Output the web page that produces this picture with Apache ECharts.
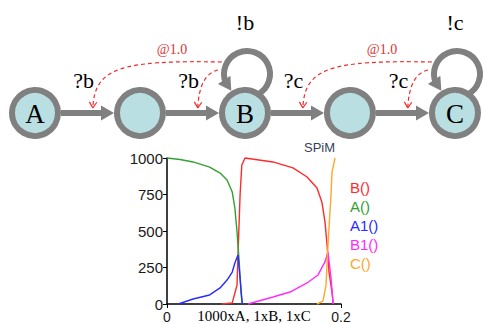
<!DOCTYPE html>
<html><head><meta charset="utf-8">
<script src="https://cdn.jsdelivr.net/npm/echarts@6/dist/echarts.min.js"></script>
<style>html,body{margin:0;padding:0;background:#fff}#c{width:485px;height:324px}</style>
</head><body><div id="c"></div>
<script>
// ---- diagram structure ----
const nodeLabels = ['A', '', 'B', '', 'C'];
const edgeLabels = ['?b', '?b', '?c', '?c'];          // edge i: node i -> node i+1
const loopNodes = [2, 4];
const loopLabels = ['!b', '!c'];
const rateLinks = [[2, 0], [2, 1], [4, 2], [4, 3]];    // loop node -> edge index
const rateLabel = '@1.0';

// ---- simulation series (time, population) ----
const seriesNames = ['B()', 'A()', 'A1()', 'B1()', 'C()'];
const bTime = [0.063, 0.075, 0.0805, 0.082, 0.084, 0.086, 0.0897, 0.1218, 0.1448, 0.161, 0.1724, 0.178, 0.1816, 0.184, 0.1862, 0.1897, 0.191];
const bVal  = [0, 8, 130, 404, 747, 952, 1000, 973, 932, 870, 795, 699, 562, 404, 219, 82, 0];
const aTime = [0, 0.015, 0.030, 0.049, 0.061, 0.069, 0.075, 0.078, 0.0805, 0.083, 0.085, 0.0865];
const aVal  = [1000, 990, 973, 938, 897, 849, 767, 658, 493, 288, 82, 0];
const a1Time = [0.013, 0.030, 0.049, 0.061, 0.069, 0.075, 0.078, 0.0816, 0.084, 0.0865];
const a1Val  = [0, 34, 62, 110, 164, 219, 281, 336, 178, 0];
const b1Time = [0.093, 0.1218, 0.1414, 0.161, 0.1736, 0.1816, 0.185, 0.1885, 0.191];
const b1Val  = [0, 48, 82, 144, 199, 288, 356, 178, 0];
const cTime = [0.1724, 0.1793, 0.1828, 0.184, 0.1862, 0.1885, 0.1897, 0.1931];
const cVal  = [0, 20, 130, 288, 520, 747, 904, 1000];
const yTicks = [0, 250, 500, 750, 1000];
const xTicks = [0, 0.2];

const colors = ['#ff2a2a', '#33a033', '#2a2aff', '#ff2aff', '#ffa82a'];
const pairs = (t, v) => t.map((x, i) => [x, v[i]]);
const lineData = [pairs(bTime, bVal), pairs(aTime, aVal), pairs(a1Time, a1Val), pairs(b1Time, b1Val), pairs(cTime, cVal)];

const GRAY = '#808080', RED = '#ee2a2a';
const SERIF = '"Liberation Serif", "DejaVu Serif", serif';
const SANS = '"Liberation Sans", Arial, sans-serif';
const R = 26;
const deg = Math.PI / 180;

function arrowHead(tx, ty, dx, dy, len, w, fill) {
  const n = Math.hypot(dx, dy); dx /= n; dy /= n;
  const bx = tx - dx * len, by = ty - dy * len;
  return {type: 'polygon', shape: {points: [[tx, ty], [bx - dy * w, by + dx * w], [bx + dy * w, by - dx * w]]}, style: {fill: fill}};
}
function openHead(tx, ty, dx, dy, len, color) {
  const n = Math.hypot(dx, dy); dx /= n; dy /= n;
  const a = 32 * deg, out = [];
  [a, -a].forEach(function (t) {
    const rx = -(dx * Math.cos(t) - dy * Math.sin(t)), ry = -(dx * Math.sin(t) + dy * Math.cos(t));
    out.push({type: 'line', shape: {x1: tx, y1: ty, x2: tx + rx * len, y2: ty + ry * len}, style: {stroke: color, lineWidth: 1.2}});
  });
  return out;
}

const chart = echarts.init(document.getElementById('c'), null, {renderer: 'svg'});
chart.setOption({
  animation: false,
  backgroundColor: '#fff',
  title: {text: 'SPiM', left: 304, top: 141, padding: 0,
    textStyle: {fontSize: 13, fontWeight: 'normal', color: '#3a3f5c', fontFamily: SANS}},
  legend: {orient: 'vertical', left: 345, top: 180, itemWidth: 0, itemHeight: 1, itemGap: 4,
    padding: 0, selectedMode: false, icon: 'rect',
    textStyle: {fontSize: 15, lineHeight: 15, fontFamily: SANS},
    data: seriesNames.map((n, i) => ({name: n, textStyle: {color: colors[i]}}))},
  grid: [
    {left: 167, right: 144, top: 158, bottom: 20, containLabel: false, outerBoundsMode: 'none'},
    {left: 35, right: 30, top: 13, height: 100, containLabel: false, outerBoundsMode: 'none'}
  ],
  xAxis: [
    {type: 'value', gridIndex: 0, min: xTicks[0], max: xTicks[xTicks.length - 1], interval: 0.2,
      splitLine: {show: false},
      axisLine: {lineStyle: {color: '#000', width: 1.5}},
      axisTick: {length: 4, lineStyle: {color: '#000'}},
      axisLabel: {margin: 6, fontSize: 14, lineHeight: 14, color: '#1a1a1a', fontFamily: SANS, formatter: v => String(v)},
      name: '1000xA, 1xB, 1xC', nameLocation: 'middle', nameGap: 4, nameMoveOverlap: false,
      nameTextStyle: {fontFamily: SERIF, fontSize: 15, lineHeight: 15, color: '#000', verticalAlign: 'top'}},
    {type: 'value', gridIndex: 1, min: 0, max: 4, show: false}
  ],
  yAxis: [
    {type: 'value', gridIndex: 0, min: yTicks[0], max: yTicks[yTicks.length - 1], interval: 250,
      splitLine: {show: false},
      axisLine: {show: true, lineStyle: {color: '#000', width: 1.5}},
      axisTick: {show: true, length: 4, lineStyle: {color: '#000'}},
      axisLabel: {margin: 4, fontSize: 15, color: '#1a1a1a', fontFamily: SANS, formatter: v => String(v)}},
    {type: 'value', gridIndex: 1, min: 0, max: 1, show: false}
  ],
  series: [
    ...seriesNames.map((n, i) => ({
      name: n, type: 'line', xAxisIndex: 0, yAxisIndex: 0, data: lineData[i],
      showSymbol: false, symbol: 'none', z: 3, clip: false,
      lineStyle: {color: colors[i], width: 1.4}, itemStyle: {color: colors[i]}
    })),
    // self loops (drawn under the nodes)
    {type: 'custom', xAxisIndex: 1, yAxisIndex: 1, z: 2, silent: true,
      data: loopNodes.map(k => [k, 0]),
      renderItem: function (params, api) {
        const c = api.coord([api.value(0), 0]);
        const cx = c[0] + 2, cy = c[1] - 39, r = 23;
        return {type: 'group', children: [
          {type: 'arc', shape: {cx: cx, cy: cy, r: r, startAngle: 62 * deg, endAngle: 158 * deg, clockwise: false},
            style: {stroke: GRAY, lineWidth: 6, fill: null}},
          {type: 'text', x: c[0], y: c[1] - 91,
            style: {text: loopLabels[params.dataIndex], font: '22px ' + SERIF, fill: '#000', align: 'center', verticalAlign: 'middle'}}
        ]};
      }},
    // nodes
    {type: 'custom', xAxisIndex: 1, yAxisIndex: 1, z: 3, silent: true,
      data: nodeLabels.map((n, i) => [i, 0]),
      renderItem: function (params, api) {
        const c = api.coord([api.value(0), 0]);
        return {type: 'group', children: [
          {type: 'circle', shape: {cx: c[0], cy: c[1], r: R - 3}, style: {fill: '#b9dfe2', stroke: GRAY, lineWidth: 6}},
          {type: 'text', x: c[0], y: c[1] + 1,
            style: {text: nodeLabels[params.dataIndex], font: '27px ' + SERIF, fill: '#000', align: 'center', verticalAlign: 'middle'}}
        ]};
      }},
    // straight edges
    {type: 'custom', xAxisIndex: 1, yAxisIndex: 1, z: 4, silent: true,
      data: edgeLabels.map((l, i) => [i, i + 1]),
      renderItem: function (params, api) {
        const a = api.coord([api.value(0), 0]);
        const b = api.coord([api.value(1), 0]);
        const x0 = a[0] + R, x1 = b[0] - R, y = a[1];
        return {type: 'group', children: [
          {type: 'line', shape: {x1: x0, y1: y, x2: x1 - 10, y2: y}, style: {stroke: GRAY, lineWidth: 6}},
          arrowHead(x1, y, 1, 0, 13, 7.5, GRAY),
          {type: 'text', x: (x0 + x1) / 2 - 4, y: y - 33,
            style: {text: edgeLabels[params.dataIndex], font: '22px ' + SERIF, fill: '#000', align: 'center', verticalAlign: 'middle'}}
        ]};
      }},
    // loop arrowheads
    {type: 'custom', xAxisIndex: 1, yAxisIndex: 1, z: 4, silent: true,
      data: loopNodes.map(k => [k, 0]),
      renderItem: function (params, api) {
        const c = api.coord([api.value(0), 0]);
        const cx = c[0] + 2, cy = c[1] - 39, r = 23;
        const tx = cx + r * Math.cos(133 * deg), ty = cy + r * Math.sin(133 * deg);
        const bx = cx + r * Math.cos(160 * deg), by = cy + r * Math.sin(160 * deg);
        return arrowHead(tx, ty, tx - bx, ty - by, 13, 7.5, GRAY);
      }},
    // red dashed rate links
    {type: 'custom', xAxisIndex: 1, yAxisIndex: 1, z: 5, silent: true,
      data: rateLinks.map(p => [p[0], p[1]]),
      renderItem: function (params, api) {
        const k = api.value(0), e = api.value(1);
        const n = api.coord([k, 0]);
        const s = api.coord([e, 0]), t = api.coord([e + 1, 0]);
        const ex0 = s[0] + R, ex1 = t[0] - R;
        const tx = ex0 + 0.6 * (ex1 - ex0), ty = n[1] - 5;
        const far = (k - e) === 2;
        let p0, p1, p2;
        if (far) {
          p0 = [n[0] - 23, n[1] - 51]; p1 = [tx + 27, n[1] - 53]; p2 = [tx + 2, n[1] - 45];
        } else {
          p0 = [n[0] - 27, n[1] - 43]; p1 = [tx + 8, n[1] - 40]; p2 = [tx + 1, n[1] - 28];
        }
        const ch = [
          {type: 'bezierCurve', shape: {x1: p0[0], y1: p0[1], cpx1: p1[0], cpy1: p1[1], cpx2: p2[0], cpy2: p2[1], x2: tx, y2: ty},
            style: {stroke: RED, lineWidth: 1.2, lineDash: [4, 3], fill: null}}
        ].concat(openHead(tx, ty, tx - p2[0], ty - p2[1], 7, RED));
        if (far) {
          ch.push({type: 'text', x: n[0] - 73, y: n[1] - 64,
            style: {text: rateLabel, font: '14px ' + SERIF, fill: '#dd3333', align: 'center', verticalAlign: 'middle'}});
        }
        return {type: 'group', children: ch};
      }}
  ]
});
</script></body></html>
